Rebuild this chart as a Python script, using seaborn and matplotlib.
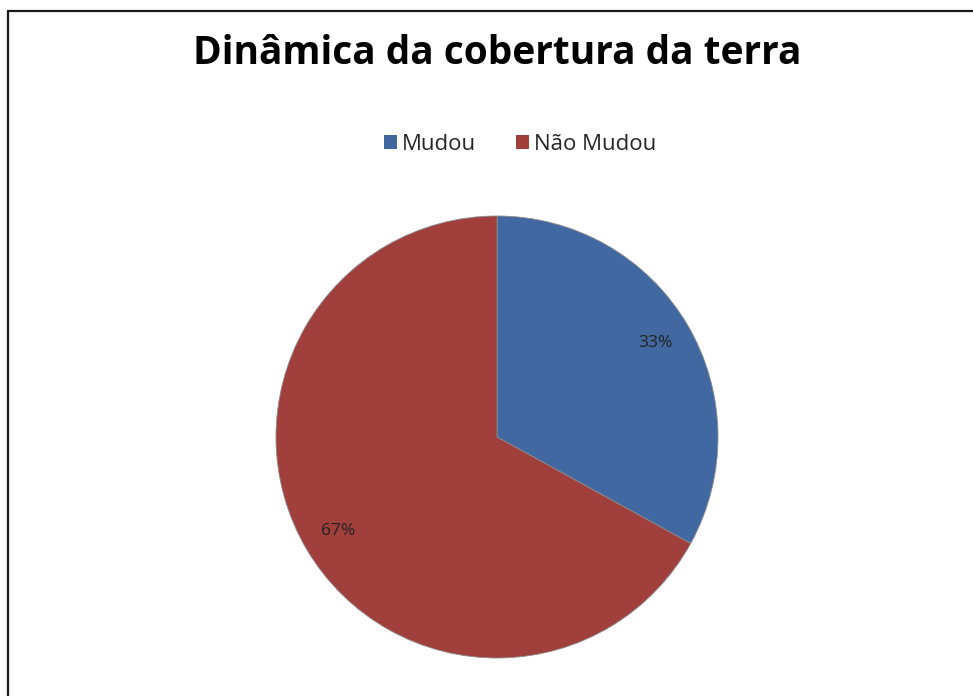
import matplotlib
matplotlib.use("Agg")
import matplotlib.pyplot as plt
from matplotlib.lines import Line2D
from matplotlib.patches import Patch
import seaborn as sns

categories = ["Mudou", "Não Mudou"]
values = [33, 67]
title = "Dinâmica da cobertura da terra"

sns.set_theme(style="white")
plt.rcParams['font.family'] = ['Open Sans', 'DejaVu Sans']
colors = sns.color_palette(["#4168A0", "#A13F3D"])

W, H = 973, 696
fig = plt.figure(figsize=(W / 100, H / 100), dpi=100)
fig.patch.set_facecolor("white")

cx, cy, r = 497, 437, 221
ax = fig.add_axes([(cx - r) / W, (H - cy - r) / H, 2 * r / W, 2 * r / H])
wedges, texts, autotexts = ax.pie(
    values, colors=colors, startangle=90, counterclock=False,
    autopct=lambda p: f"{p:.0f}%", pctdistance=0.835, radius=1,
    wedgeprops=dict(linewidth=0.6, edgecolor="#8a8a8a"),
    textprops=dict(fontsize=12.5, color="#222222"))
ax.set_xlim(-1, 1)
ax.set_ylim(-1, 1)
ax.set_aspect("equal")
ax.axis("off")

fig.text(497 / W, 1 - 53 / H, title, ha="center", va="center",
         fontsize=28, fontweight="bold", color="black")

handles = [Patch(facecolor=c, edgecolor="none") for c in colors]
fig.legend(handles, categories, loc="center", bbox_to_anchor=(520 / W, 1 - 144 / H),
           ncol=2, frameon=False, fontsize=16, handlelength=0.58, handleheight=0.58,
           handletextpad=0.22, columnspacing=1.8)

fig.add_artist(Line2D([8 / W, 1], [1 - 11 / H, 1 - 11 / H], color="#1a1a1a", lw=1.6))
fig.add_artist(Line2D([8 / W, 8 / W], [0, 1 - 11 / H], color="#1a1a1a", lw=1.6))

fig.savefig("out.png", dpi=100, facecolor="white")
